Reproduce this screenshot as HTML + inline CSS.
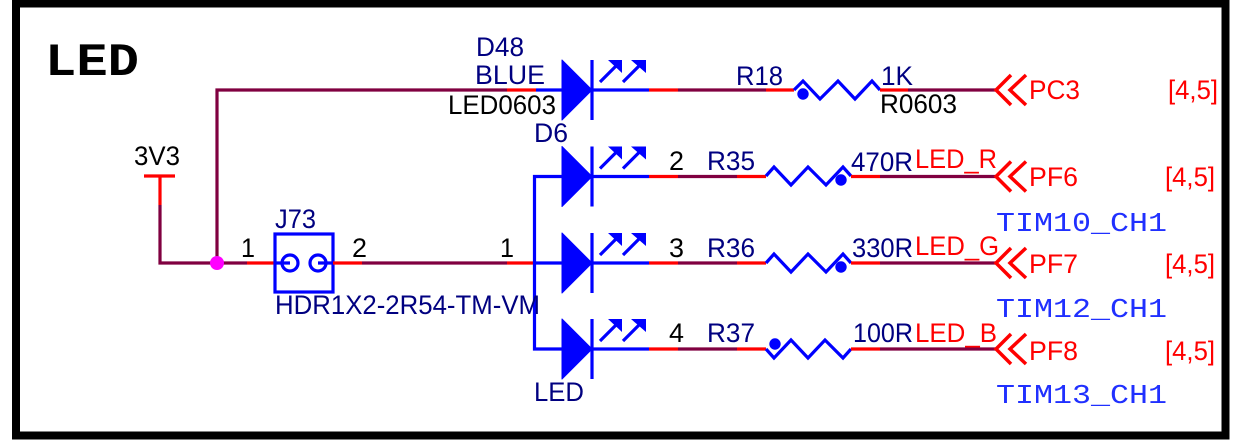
<!DOCTYPE html>
<html><head><meta charset="utf-8"><style>
html,body{margin:0;padding:0;background:#fff;width:1252px;height:446px;overflow:hidden}
svg{display:block}
text{font-family:"Liberation Sans",sans-serif;font-size:27px}
.n{fill:#000080}.k{fill:#000}.r{fill:#f00}
.m{font-family:"Liberation Mono",monospace;font-size:27px;fill:#2030ff}
.w{fill:none;stroke-width:3.2}
.p{stroke:#800040}.d{stroke:#f00}.b{stroke:#00f}
</style></head><body>
<svg width="1252" height="446" viewBox="0 0 1252 446" xmlns="http://www.w3.org/2000/svg">
<defs>
<g id="led">
<path d="M562 -30L592 0L562 30Z" fill="#00f" stroke="#00f" stroke-width="1" stroke-linejoin="round"/>
<path d="M592 -30V30" class="w b"/>
<path d="M600 -8L618 -26M623 -8L641 -26" class="w b"/>
<path d="M608 -30H622V-17ZM631 -30H646V-17Z" fill="#00f"/>
</g>
<path id="chev" d="M1011 -15L996 0L1011 15M1026 -15L1010 0L1026 15" fill="none" stroke="#f00" stroke-width="3.5"/>
</defs>
<rect x="16" y="3.5" width="1209.5" height="432" fill="#fff" stroke="#000" stroke-width="8"/>
<text x="45" y="75" style="font-family:'Liberation Mono',monospace;font-weight:bold;font-size:46px" textLength="94" lengthAdjust="spacingAndGlyphs">LED</text>

<!-- left wiring -->
<path d="M144 176H175M160 176V205" class="w d"/>
<path d="M160 205V263H247M217 263V90H507" class="w p"/>
<path d="M247 263H275" class="w d"/>
<rect x="275" y="234" width="58" height="58" class="w b"/>
<circle cx="290" cy="263" r="8" class="w b"/><circle cx="318" cy="263" r="8" class="w b"/>
<path d="M275 263H290M318 263H333" class="w b"/>
<path d="M333 263H362" class="w d"/><path d="M362 263H507" class="w p"/><path d="M507 263H535" class="w d"/>
<circle cx="217" cy="263" r="7" fill="#f0f"/>
<path d="M507 90H536" class="w d"/><path d="M536 90H562" class="w b"/>
<path d="M562 176.500H534.500V349H562M535 263H562" class="w b"/>

<!-- LEDs -->
<use href="#led" y="90"/><use href="#led" y="176.500"/><use href="#led" y="263"/><use href="#led" y="349"/>

<!-- row 1 -->
<path d="M592 90H649" class="w b"/><path d="M649 90H678" class="w d"/><path d="M678 90H766" class="w p"/><path d="M766 90H794" class="w d"/>
<path d="M794 90L803 81L820 99L838 81L855 99L872 81L880 90" class="w b"/>
<circle cx="803" cy="94" r="5.700" fill="#00f"/>
<path d="M880 90H908" class="w d"/><path d="M908 90H996" class="w p"/>
<use href="#chev" y="90"/>

<!-- row 2 -->
<path d="M592 176.500H649" class="w b"/><path d="M649 176.500H678" class="w d"/><path d="M678 176.500H737" class="w p"/><path d="M737 176.500H766" class="w d"/>
<path d="M766 176L774 167L791 185L808 167L826 185L843 167L851 176" class="w b"/>
<circle cx="841" cy="180" r="5.700" fill="#00f"/>
<path d="M851 176.500H880" class="w d"/><path d="M880 176.500H996" class="w p"/>
<use href="#chev" y="176.500"/>

<!-- row 3 -->
<path d="M592 263H649" class="w b"/><path d="M649 263H678" class="w d"/><path d="M678 263H737" class="w p"/><path d="M737 263H766" class="w d"/>
<path d="M766 263L774 254L791 272L808 254L826 272L843 254L851 263" class="w b"/>
<circle cx="841" cy="267" r="5.700" fill="#00f"/>
<path d="M851 263H880" class="w d"/><path d="M880 263H996" class="w p"/>
<use href="#chev" y="263"/>

<!-- row 4 -->
<path d="M592 349H649" class="w b"/><path d="M649 349H678" class="w d"/><path d="M678 349H737" class="w p"/><path d="M737 349H766" class="w d"/>
<path d="M766 349L774 358L791 340L808 358L825 340L843 358L851 349" class="w b"/>
<circle cx="775" cy="344" r="5.700" fill="#00f"/>
<path d="M851 349H880" class="w d"/><path d="M880 349H996" class="w p"/>
<use href="#chev" y="349"/>

<!-- labels -->
<text x="134" y="165" class="k" textLength="46" lengthAdjust="spacingAndGlyphs">3V3</text>
<text x="275" y="228" class="n" textLength="41" lengthAdjust="spacingAndGlyphs">J73</text>
<text x="241" y="257" class="k" textLength="14" lengthAdjust="spacingAndGlyphs">1</text>
<text x="352" y="257" class="k" textLength="15" lengthAdjust="spacingAndGlyphs">2</text>
<text x="500" y="257" class="k" textLength="14" lengthAdjust="spacingAndGlyphs">1</text>
<text x="275" y="314" class="n" textLength="265" lengthAdjust="spacingAndGlyphs">HDR1X2-2R54-TM-VM</text>
<text x="476" y="56" class="n" textLength="48" lengthAdjust="spacingAndGlyphs">D48</text>
<text x="475" y="84" class="n" textLength="70" lengthAdjust="spacingAndGlyphs">BLUE</text>
<text x="448" y="114" class="k" textLength="108" lengthAdjust="spacingAndGlyphs">LED0603</text>
<text x="534" y="142" class="n" textLength="34" lengthAdjust="spacingAndGlyphs">D6</text>
<text x="534" y="401" class="n" textLength="50" lengthAdjust="spacingAndGlyphs">LED</text>

<text x="736" y="85" class="n" textLength="47" lengthAdjust="spacingAndGlyphs">R18</text>
<text x="881" y="85" class="n" textLength="32" lengthAdjust="spacingAndGlyphs">1K</text>
<text x="880" y="113" class="k" textLength="77" lengthAdjust="spacingAndGlyphs">R0603</text>
<text x="1029" y="99" class="r" textLength="51" lengthAdjust="spacingAndGlyphs">PC3</text>
<text x="1168" y="99" class="r" textLength="50" lengthAdjust="spacingAndGlyphs">[4,5]</text>

<text x="669" y="170" class="k" textLength="15" lengthAdjust="spacingAndGlyphs">2</text>
<text x="707" y="170" class="n" textLength="48" lengthAdjust="spacingAndGlyphs">R35</text>
<text x="851" y="171" class="n" textLength="62" lengthAdjust="spacingAndGlyphs">470R</text>
<text x="915" y="168" class="r" textLength="82" lengthAdjust="spacingAndGlyphs">LED_R</text>
<text x="1029" y="186" class="r" textLength="49" lengthAdjust="spacingAndGlyphs">PF6</text>
<text x="1165" y="186" class="r" textLength="50" lengthAdjust="spacingAndGlyphs">[4,5]</text>
<text x="996" y="231" class="m" textLength="171" lengthAdjust="spacingAndGlyphs">TIM10_CH1</text>

<text x="669" y="257" class="k" textLength="15" lengthAdjust="spacingAndGlyphs">3</text>
<text x="707" y="257" class="n" textLength="48" lengthAdjust="spacingAndGlyphs">R36</text>
<text x="852" y="257" class="n" textLength="61" lengthAdjust="spacingAndGlyphs">330R</text>
<text x="915" y="255" class="r" textLength="84" lengthAdjust="spacingAndGlyphs">LED_G</text>
<text x="1029" y="273" class="r" textLength="49" lengthAdjust="spacingAndGlyphs">PF7</text>
<text x="1165" y="273" class="r" textLength="50" lengthAdjust="spacingAndGlyphs">[4,5]</text>
<text x="996" y="317" class="m" textLength="171" lengthAdjust="spacingAndGlyphs">TIM12_CH1</text>

<text x="669" y="342" class="k" textLength="15" lengthAdjust="spacingAndGlyphs">4</text>
<text x="707" y="342" class="n" textLength="48" lengthAdjust="spacingAndGlyphs">R37</text>
<text x="853" y="342" class="n" textLength="60" lengthAdjust="spacingAndGlyphs">100R</text>
<text x="915" y="342" class="r" textLength="82" lengthAdjust="spacingAndGlyphs">LED_B</text>
<text x="1029" y="360" class="r" textLength="49" lengthAdjust="spacingAndGlyphs">PF8</text>
<text x="1165" y="360" class="r" textLength="50" lengthAdjust="spacingAndGlyphs">[4,5]</text>
<text x="996" y="403" class="m" textLength="171" lengthAdjust="spacingAndGlyphs">TIM13_CH1</text>
</svg>
</body></html>
